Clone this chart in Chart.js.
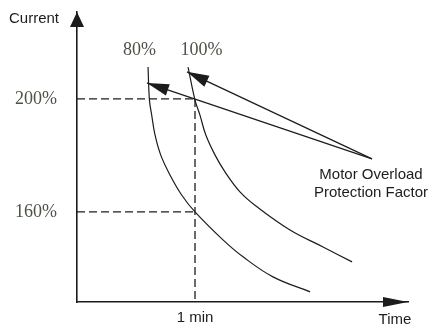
<!DOCTYPE html>
<html>
<head>
<meta charset="utf-8">
<script src="https://cdn.jsdelivr.net/npm/chart.js@4/dist/chart.umd.min.js"></script>
<style>
  html, body { margin: 0; padding: 0; background: #fff; }
  canvas { display: block; }
</style>
</head>
<body>
<canvas id="overload" width="434" height="330"></canvas>
<script>
// --- data (time in minutes, current in % of rated) ---
const curveTime80 = [0.602, 0.614, 0.633, 0.661, 0.709, 0.788, 0.887, 1.0, 1.237, 1.407, 1.661, 1.975];
const curveCurrent80 = [211.3, 199.6, 194.3, 187.3, 180.2, 173.1, 166.0, 160.0, 150.1, 144.1, 137.0, 131.7];
const curveTime100 = [0.941, 1.0, 1.042, 1.091, 1.169, 1.254, 1.381, 1.525, 1.805, 2.085, 2.331];
const curveCurrent100 = [211.3, 199.6, 194.3, 187.3, 180.2, 174.2, 167.1, 161.8, 153.6, 147.6, 142.3];
const curveNames = ["80%", "100%"];
const currentLevels = [160, 200];
const currentLabels = ["160%", "200%"];
const ratedTime = 1;
const timeLabel = "1 min";
// callout: common tail, then the tip on each curve
const calloutTail = [2.5, 178.8];
const calloutTips = [[0.593, 205.7], [0.932, 209.6]];
const calloutText = ["Motor Overload", "Protection Factor"];

const X_MAX = 2.805, Y_MIN = 128.1, Y_MAX = 230.8;
const INK = "#1c1c1c";
const SERIF_INK = "#4b5246";

function pts(xs, ys) { return xs.map((x, i) => ({ x: x, y: ys[i] })); }

const dashed = {
  borderColor: INK, borderWidth: 1.3, borderDash: [8, 4],
  pointRadius: 0, tension: 0, fill: false
};
const guides = [
  Object.assign({ data: [{ x: 0, y: currentLevels[1] }, { x: ratedTime, y: currentLevels[1] }] }, dashed),
  Object.assign({ data: [{ x: 0, y: currentLevels[0] }, { x: ratedTime, y: currentLevels[0] }] }, dashed),
  Object.assign({ data: [{ x: ratedTime, y: currentLevels[1] }, { x: ratedTime, y: Y_MIN }] }, dashed)
];

const curves = [
  { data: pts(curveTime80, curveCurrent80) },
  { data: pts(curveTime100, curveCurrent100) }
].map(d => Object.assign(d, {
  borderColor: INK, borderWidth: 1.2, pointRadius: 0,
  tension: 0.4, fill: false
}));

const callouts = calloutTips.map(t => ({
  id: "callout",
  data: [{ x: calloutTail[0], y: calloutTail[1] }, { x: t[0], y: t[1] }],
  borderColor: INK, borderWidth: 1.2, pointRadius: 0, tension: 0, fill: false
}));

function arrowHead(ctx, tip, from, len, half) {
  const a = Math.atan2(tip.y - from.y, tip.x - from.x);
  ctx.beginPath();
  ctx.moveTo(tip.x, tip.y);
  ctx.lineTo(tip.x - len * Math.cos(a) + half * Math.sin(a), tip.y - len * Math.sin(a) - half * Math.cos(a));
  ctx.lineTo(tip.x - len * Math.cos(a) - half * Math.sin(a), tip.y - len * Math.sin(a) + half * Math.cos(a));
  ctx.closePath();
  ctx.fill();
}

// arrows on both axes, callout heads and free text
const decorations = {
  id: "decorations",
  afterDatasetsDraw(chart) {
    const ctx = chart.ctx, area = chart.chartArea;
    const xs = chart.scales.x, ys = chart.scales.y;
    ctx.save();
    ctx.fillStyle = INK;
    arrowHead(ctx, { x: area.left, y: area.top }, { x: area.left, y: area.bottom }, 15, 7);
    arrowHead(ctx, { x: area.right, y: area.bottom }, { x: area.left, y: area.bottom }, 25, 5);

    chart.data.datasets.forEach((ds, i) => {
      if (ds.id !== "callout") return;
      const el = chart.getDatasetMeta(i).data;
      arrowHead(ctx, el[1], el[0], 22, 6);
    });

    ctx.textBaseline = "middle";
    ctx.font = "15px 'Liberation Sans', Arial, sans-serif";
    ctx.textAlign = "left";
    ctx.fillText("Current", 9, 19);
    ctx.textAlign = "center";
    ctx.fillText("Time", 395, 320);
    const cx = xs.getPixelForValue(calloutTail[0]) - 1;
    ctx.fillText(calloutText[0], cx, 175);
    ctx.fillText(calloutText[1], cx, 193);

    ctx.fillStyle = SERIF_INK;
    ctx.font = "18px 'Liberation Serif', 'Times New Roman', serif";
    const nameY = ys.getPixelForValue(217.3);
    ctx.fillText(curveNames[0], xs.getPixelForValue(0.53), nameY);
    ctx.fillText(curveNames[1], xs.getPixelForValue(1.055), nameY);
    ctx.restore();
  }
};

new Chart(document.getElementById("overload"), {
  type: "line",
  data: { datasets: guides.concat(curves, callouts) },
  options: {
    responsive: false,
    animation: false,
    layout: { padding: { top: 12, right: 26, left: 0, bottom: 0 } },
    plugins: { legend: { display: false }, tooltip: { enabled: false } },
    scales: {
      x: {
        type: "linear", min: 0, max: X_MAX,
        grid: { display: false, drawTicks: false },
        border: { color: INK, width: 1.6 },
        afterBuildTicks: s => { s.ticks = [{ value: ratedTime }]; },
        afterFit: s => { s.height = 28; s.paddingLeft = 0; s.paddingRight = 0; },
        ticks: {
          padding: 7, color: INK,
          font: { family: "'Liberation Sans', Arial, sans-serif", size: 15 },
          callback: () => timeLabel
        }
      },
      y: {
        type: "linear", min: Y_MIN, max: Y_MAX,
        grid: { display: false, drawTicks: false },
        border: { color: INK, width: 1.6 },
        afterBuildTicks: s => { s.ticks = currentLevels.map(v => ({ value: v })); },
        afterFit: s => { s.width = 77; s.paddingTop = 0; s.paddingBottom = 0; },
        ticks: {
          padding: 20, color: SERIF_INK,
          font: { family: "'Liberation Serif', 'Times New Roman', serif", size: 18 },
          callback: v => currentLabels[currentLevels.indexOf(v)]
        }
      }
    }
  },
  plugins: [decorations]
});
</script>
</body>
</html>
